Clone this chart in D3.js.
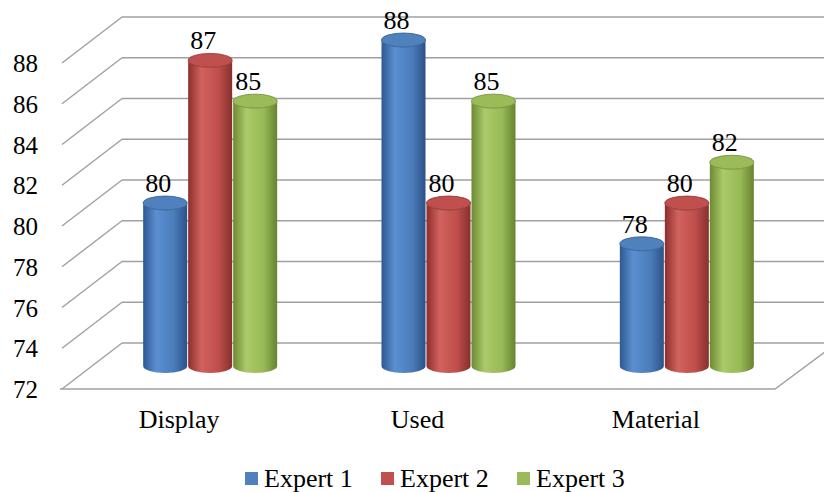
<!DOCTYPE html>
<html>
<head>
<script src="https://d3js.org/d3.v7.min.js"></script>
<style>
  body { margin: 0; background: #fff; }
  text { font-family: "Liberation Serif", "Times New Roman", serif; fill: #000; }
</style>
</head>
<body>
<div id="chart"></div>
<script>
var categories = ["Display", "Used", "Material"];
var seriesNames = ["Expert 1", "Expert 2", "Expert 3"];
var expert1 = [80, 88, 78];
var expert2 = [87, 80, 80];
var expert3 = [85, 85, 82];
var yTicks = [72, 74, 76, 78, 80, 82, 84, 86, 88];
var colors = ["#4F81BD", "#C0504D", "#9BBB59"];

var W = 824, H = 492;
var dx = 62, dy = -46;          // depth offset front -> back
var left = 60, right = 775;
var yFront = d3.scaleLinear().domain([72, 88]).range([389, 63]);

var svg = d3.select("#chart").append("svg")
  .attr("width", W).attr("height", H);

var defs = svg.append("defs");
var shades = [
  ["#2E5893", "#5B8FD0", "#4A7CBA", "#2C5288"],
  ["#8C2E2C", "#D1625E", "#BD4E4B", "#86302D"],
  ["#6C8A33", "#ABCA69", "#97B956", "#67832F"]
];
shades.forEach(function(s, i) {
  var g = defs.append("linearGradient").attr("id", "cyl" + i)
    .attr("x1", "0%").attr("x2", "100%").attr("y1", "0%").attr("y2", "0%");
  g.append("stop").attr("offset", "0%").attr("stop-color", s[0]);
  g.append("stop").attr("offset", "30%").attr("stop-color", s[1]);
  g.append("stop").attr("offset", "70%").attr("stop-color", s[2]);
  g.append("stop").attr("offset", "100%").attr("stop-color", s[3]);
});

// gridlines: back wall + depth lines
var grid = svg.append("g").attr("stroke", "#A0A0A0").attr("stroke-width", 1.4).attr("fill", "none");
yTicks.forEach(function(t) {
  var fy = yFront(t);
  grid.append("line").attr("x1", left + dx).attr("y1", fy + dy).attr("x2", W + 20).attr("y2", fy + dy);
  grid.append("line").attr("x1", left + dx).attr("y1", fy + dy).attr("x2", left + 2).attr("y2", fy);
});
// floor
grid.append("path")
  .attr("d", "M" + left + "," + yFront(72) + "L" + right + "," + yFront(72) +
             "L" + (right + dx) + "," + (yFront(72) + dy));

// y labels
svg.append("g").selectAll("text").data(yTicks).enter().append("text")
  .attr("x", 38).attr("y", function(d) { return yFront(d) + 9; })
  .attr("text-anchor", "end").style("font-size", "25px")
  .text(function(d) { return d; });

// bars
var x0 = d3.scaleBand().domain(categories).range([left, right]);
var groupW = 135;
var x1 = d3.scaleBand().domain(seriesNames).range([-groupW / 2, groupW / 2]);
var values = [expert1, expert2, expert3];
var rx = x1.bandwidth() / 2 - 0.5, ry = 7;

var bars = [];
categories.forEach(function(c, ci) {
  seriesNames.forEach(function(s, si) {
    bars.push({ cat: c, ser: s, si: si, v: values[si][ci] });
  });
});

var barG = svg.append("g");
bars.forEach(function(b) {
  var cx = x0(b.cat) + x0.bandwidth() / 2 + dx / 2 + x1(b.ser) + x1.bandwidth() / 2;
  var yb = yFront(72) + dy / 2;
  var yt = yFront(b.v) + dy / 2;
  var g = barG.append("g");
  g.append("path")
    .attr("d", "M" + (cx - rx) + "," + yt +
      "L" + (cx - rx) + "," + yb +
      "A" + rx + "," + ry + " 0 0 0 " + (cx + rx) + "," + yb +
      "L" + (cx + rx) + "," + yt +
      "A" + rx + "," + ry + " 0 0 1 " + (cx - rx) + "," + yt + "Z")
    .attr("fill", "url(#cyl" + b.si + ")");
  g.append("ellipse")
    .attr("cx", cx).attr("cy", yt).attr("rx", rx).attr("ry", ry)
    .attr("fill", colors[b.si])
    .attr("stroke", shades[b.si][0]).attr("stroke-width", 0.8);
  svg.append("text")
    .attr("x", cx - 7).attr("y", yt - 11)
    .attr("text-anchor", "middle").style("font-size", "26px")
    .text(b.v);
});

// category labels
svg.append("g").selectAll("text").data(categories).enter().append("text")
  .attr("x", function(d) { return x0(d) + x0.bandwidth() / 2; })
  .attr("y", 428).attr("text-anchor", "middle").style("font-size", "26px")
  .text(function(d) { return d; });

// legend
var legX = [245, 381, 517];
var leg = svg.append("g");
seriesNames.forEach(function(s, i) {
  leg.append("rect").attr("x", legX[i]).attr("y", 472).attr("width", 13).attr("height", 13)
    .attr("fill", colors[i]);
  leg.append("text").attr("x", legX[i] + 19).attr("y", 487)
    .style("font-size", "26px").text(s);
});
</script>
</body>
</html>
